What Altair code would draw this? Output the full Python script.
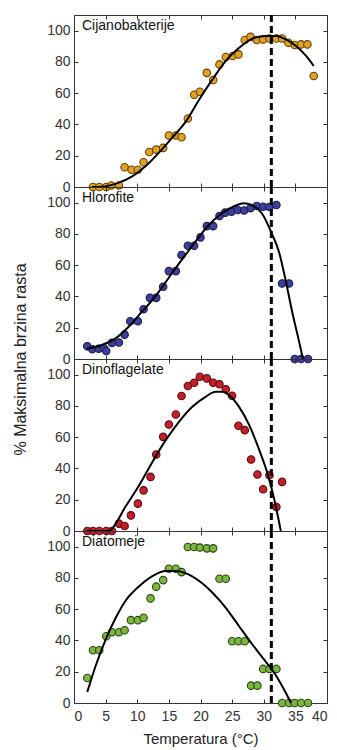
import altair as alt
import pandas as pd

# ---- data ----
panel_names = ["Cijanobakterije", "Hlorofite", "Dinoflagelate", "Diatomeje"]

cyano_t = [3.0, 4.0, 5.1, 5.9, 7.1, 8.0, 9.1, 10.1, 11.0, 11.9, 13.0, 14.1, 15.0, 16.1, 17.0, 18.0, 19.0, 19.9,
           21.0, 22.0, 23.0, 24.0, 25.1, 26.0, 27.0, 27.9, 28.9, 29.9, 30.9, 32.0, 32.9, 33.9, 34.9, 35.9, 36.9, 37.9]
cyano_r = [0, 0, 0, 1, 1, 12.6, 11, 11, 15.8, 22.4, 23.9, 25, 32.9, 32.9, 31.8, 43.8, 59, 60.9,
           73, 68.4, 78.4, 83.1, 83.8, 84.8, 94, 96, 94, 94.4, 95, 95, 95, 92.3, 90.8, 91.2, 91.2, 71]
cyano_fit_t = [2.8, 4.9, 7.0, 9.2, 11.3, 13.4, 15.5, 17.7, 19.8, 21.9, 24.0, 26.1, 28.2, 30.4, 32.0, 33.5, 35.1, 36.7, 37.9]
cyano_fit_r = [0, 0.4, 2.6, 6.8, 13.2, 21.8, 31.4, 42, 56, 68.8, 80.6, 89, 94.9, 96.6, 96.6, 94.4, 90.2, 83.8, 77.4]

hloro_t = [2.1, 2.9, 3.9, 4.7, 5.1, 6.0, 7.1, 8.0, 8.9, 10.1, 11.0, 12.0, 13.0, 14.1, 15.0, 16.1, 17.0, 18.0, 19.0,
           20.0, 21.0, 22.0, 23.0, 23.9, 24.9, 25.9, 26.9, 27.9, 28.9, 29.9, 30.9, 32.0, 32.9, 34.0, 34.9, 35.9, 37.0]
hloro_r = [8.1, 6.2, 6.6, 7, 5.1, 10.3, 10.5, 15.6, 24.1, 24.1, 31.8, 39.1, 39.1, 46.2, 56.2, 56.2, 66.5, 72.4, 72.4,
           77.8, 85, 85, 91.5, 93.6, 94.2, 95.3, 95, 96.4, 97.9, 97.4, 97.2, 98.5, 48.3, 48.3, 0, 0, 0]
hloro_fit_t = [2.0, 4.3, 6.5, 8.6, 10.7, 12.8, 14.9, 17.0, 19.2, 21.3, 23.4, 25.5, 26.8, 28.1, 29.7, 31.3, 32.4,
               33.4, 34.5, 35.6, 36.2]
hloro_fit_r = [6.6, 8.8, 13, 20.5, 30.1, 39.7, 51.5, 63.2, 75, 85.7, 93.2, 98, 99.6, 98.5, 93.2, 80.0, 68.6,
               51.5, 30.1, 10.9, 0]

dino_t = [2.1, 3.0, 4.0, 5.1, 6.0, 7.1, 8.0, 9.0, 10.1, 11.0, 12.1, 13.0, 14.1, 15.0, 16.1, 17.0, 18.0, 19.0,
          19.9, 21.0, 22.0, 23.0, 24.0, 25.0, 26.0, 27.0, 28.0, 29.0, 29.9, 30.9, 32.0, 32.9]
dino_r = [0, 0, 0, 0, 0, 4.7, 3.2, 10, 17.5, 26, 34.6, 48.9, 60.2, 68.1, 74.5, 86.3, 92.7, 94.8,
          98.7, 97.6, 94.8, 93.8, 90.6, 86.5, 67.3, 64.5, 45.7, 36.1, 26.7, 35.6, 15.3, 31.4]
dino_fit_t = [2.0, 5.5, 6.0, 8.1, 10.3, 12.4, 14.5, 16.6, 18.7, 20.8, 22.4, 23.5, 24.5, 26.1, 27.7, 29.3, 30.6, 31.7, 32.7]
dino_fit_r = [0, 0, 1.5, 15.3, 29.2, 44.2, 58.1, 69.8, 79.4, 85.8, 89, 89, 86.9, 79.4, 67.7, 51.7, 36.7, 19.6, 0]

diatom_t = [2.1, 3.0, 4.0, 5.1, 6.0, 7.1, 8.0, 9.0, 10.1, 11.0, 12.1, 13.0, 14.1, 15.0, 16.1, 17.0, 18.0, 19.0,
            19.9, 21.0, 22.0, 23.0, 24.0, 25.0, 26.0, 27.0, 28.0, 29.0, 29.9, 30.9, 32.0, 32.9, 34.0, 34.9, 35.9, 37.0]
diatom_r = [16, 33.7, 33.7, 42.7, 45.3, 45.3, 46.5, 53, 53, 54.5, 66.9, 74.4, 78.6, 85.9, 85.9, 83.7, 99.8, 99.8,
            99.4, 98.9, 98.9, 79.5, 79.5, 39.5, 39.5, 39.5, 11.1, 11.1, 21.8, 21.8, 21.8, 0, 0, 0, 0, 0]
diatom_fit_t = [2.1, 3.4, 5.0, 6.6, 8.1, 10.3, 12.4, 14.5, 16.1, 17.7, 19.8, 21.9, 24.0, 26.1, 28.2, 30.4, 32.0, 33.5, 34.3]
diatom_fit_r = [7, 23.5, 40.6, 54.5, 65.1, 74.7, 81.2, 84.4, 84.4, 82.9, 78, 70.5, 60.9, 49.1, 37.4, 26, 17.1, 6.4, 0]

critical_temp = [31.2]
x_ticks = [0, 5, 10, 15, 20, 25, 30, 35, 40]
y_ticks = [0, 20, 40, 60, 80, 100]

fills = ["#E3A224", "#3D3F9A", "#C4202B", "#7BB642"]
strokes = ["#5E4008", "#1A1A50", "#560C0E", "#2A4512"]

FONT = "Liberation Sans"
W, H = 253, 172


def panel(i, pt, pr, ft, fr):
    pts = pd.DataFrame({"T": pt, "R": pr})
    fit = pd.DataFrame({"T": ft, "R": fr})
    crit = pd.DataFrame({"T": critical_temp})
    lab = pd.DataFrame({"name": [panel_names[i]]})
    xs = alt.Scale(domain=[0, 40], nice=False, zero=False)
    ys = alt.Scale(domain=[0, 110], nice=False)
    last = i == 3

    xkw = dict(orient="bottom", values=x_ticks, offset=-4, tickSize=4, domain=False, grid=False,
               labels=last, labelPadding=6, labelFontSize=14, labelFont=FONT, labelColor="#333333",
               tickColor="#333333", titleFont=FONT, titleFontSize=15, titleFontWeight="normal",
               titleColor="#222222", titlePadding=8)
    ykw = dict(orient="left", values=y_ticks, offset=-4, tickSize=4, domain=False, grid=False,
               labelPadding=4, labelFontSize=14, labelFont=FONT, labelColor="#333333",
               tickColor="#333333", titleFont=FONT, titleFontSize=16, titleFontWeight="normal",
               titleColor="#222222")
    if i == 1:
        ykw.update(titleX=-53, titleY=H, titleAngle=-90, titleAlign="center", titleBaseline="alphabetic")

    points = alt.Chart(pts).mark_point(filled=True, size=56, opacity=1, strokeWidth=1.1,
                                       fill=fills[i], stroke=strokes[i]).encode(
        x=alt.X("T:Q", scale=xs, title="Temperatura (°C)" if last else None, axis=alt.Axis(**xkw)),
        y=alt.Y("R:Q", scale=ys, title="% Maksimalna brzina rasta" if i == 1 else None, axis=alt.Axis(**ykw)),
    )
    curve = alt.Chart(fit).mark_line(color="black", strokeWidth=2, interpolate="monotone").encode(
        x=alt.X("T:Q", scale=xs, title=None,
                axis=alt.Axis(orient="top", values=x_ticks, offset=-4, tickSize=4, domain=False,
                              grid=False, labels=False, tickColor="#333333")),
        y=alt.Y("R:Q", scale=ys, title=None,
                axis=alt.Axis(orient="right", values=y_ticks, offset=-4, tickSize=4, domain=False,
                              grid=False, labels=False, tickColor="#333333")),
    )
    rule = alt.Chart(crit).mark_rule(color="black", strokeWidth=3, strokeDash=[7, 4]).encode(
        x=alt.X("T:Q", scale=xs, axis=None)
    )
    text = alt.Chart(lab).mark_text(align="left", baseline="top", font=FONT, fontSize=14,
                                    color="#111111").encode(
        x=alt.value(8), y=alt.value(4), text="name:N"
    )
    return alt.layer(points, curve, rule, text).resolve_axis(x="independent", y="independent").properties(
        width=W, height=H)


chart = alt.vconcat(
    panel(0, cyano_t, cyano_r, cyano_fit_t, cyano_fit_r),
    panel(1, hloro_t, hloro_r, hloro_fit_t, hloro_fit_r),
    panel(2, dino_t, dino_r, dino_fit_t, dino_fit_r),
    panel(3, diatom_t, diatom_r, diatom_fit_t, diatom_fit_r),
    spacing=0, bounds="flush",
).configure(
    background="white",
    padding={"left": 3, "top": 5, "right": 0, "bottom": 5},
).configure_view(stroke="#333333", strokeWidth=1)

chart.save("out.html", embed_options={"renderer": "svg", "actions": False})
